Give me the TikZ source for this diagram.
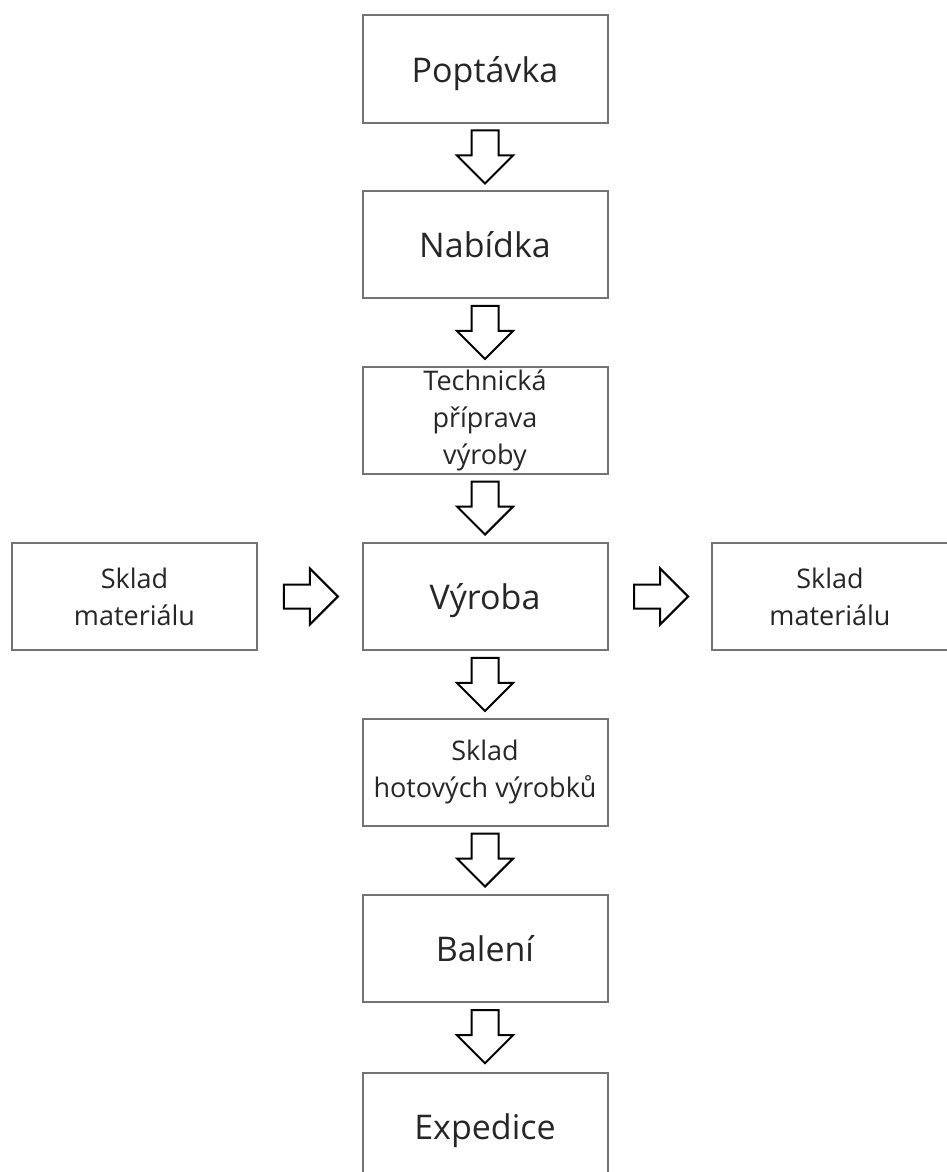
\documentclass[tikz,border=0pt]{standalone}
\usepackage{fontspec}
\setmainfont{Open Sans}
\usetikzlibrary{shapes.arrows}
\tikzstyle{box}=[draw=black!55,line width=2pt,minimum width=245pt,minimum height=107pt,inner sep=0pt,align=center,text=black!85]
\tikzstyle{bigbox}=[box,font=\fontsize{34}{40}\selectfont,text height=26pt,text depth=0pt]
\tikzstyle{smallbox}=[box,font=\fontsize{27}{37}\selectfont]
\tikzstyle{downarrow}=[single arrow,draw=black,line width=2pt,fill=white,inner xsep=0pt,inner ysep=12.5pt,minimum height=53pt,single arrow head extend=14.5pt,sloped,anchor=tail,pos=0.09]
\tikzstyle{sidearrow}=[downarrow,minimum height=54pt,inner ysep=11pt,single arrow head extend=16pt,pos=0.24]

\begin{document}
\begin{tikzpicture}[x=1pt,y=-1pt]
    \useasboundingbox (0,0) rectangle (946,1172);
    % main column
    \node[bigbox] (popt) at (485,69)     {Poptávka};
    \node[bigbox] (nab)  at (485,244.5)  {Nabídka};
    \node[smallbox] (tpv) at (485,420)   {Technická\\příprava\\výroby};
    \node[bigbox] (vyr)  at (485,596.5)  {Výroba};
    \node[smallbox] (shv) at (485,772)   {Sklad\\hotových výrobků};
    \node[bigbox] (bal)  at (485,948.5)  {Balení};
    \node[bigbox] (exp)  at (485,1126)   {Expedice};
    % side stores
    \node[smallbox] (smL) at (134.5,596.5) {Sklad\\materiálu};
    \node[smallbox,minimum width=236pt] (smR) at (830,596.5) {Sklad\\materiálu};
    % arrows
    \path (popt) -- node[downarrow] {} (nab);
    \path (nab)  -- node[downarrow] {} (tpv);
    \path (tpv)  -- node[downarrow] {} (vyr);
    \path (vyr)  -- node[downarrow] {} (shv);
    \path (shv)  -- node[downarrow] {} (bal);
    \path (bal)  -- node[downarrow] {} (exp);
    \path (smL)  -- node[sidearrow] {} (vyr);
    \path (vyr)  -- node[sidearrow] {} (smR);
\end{tikzpicture}
\end{document}
